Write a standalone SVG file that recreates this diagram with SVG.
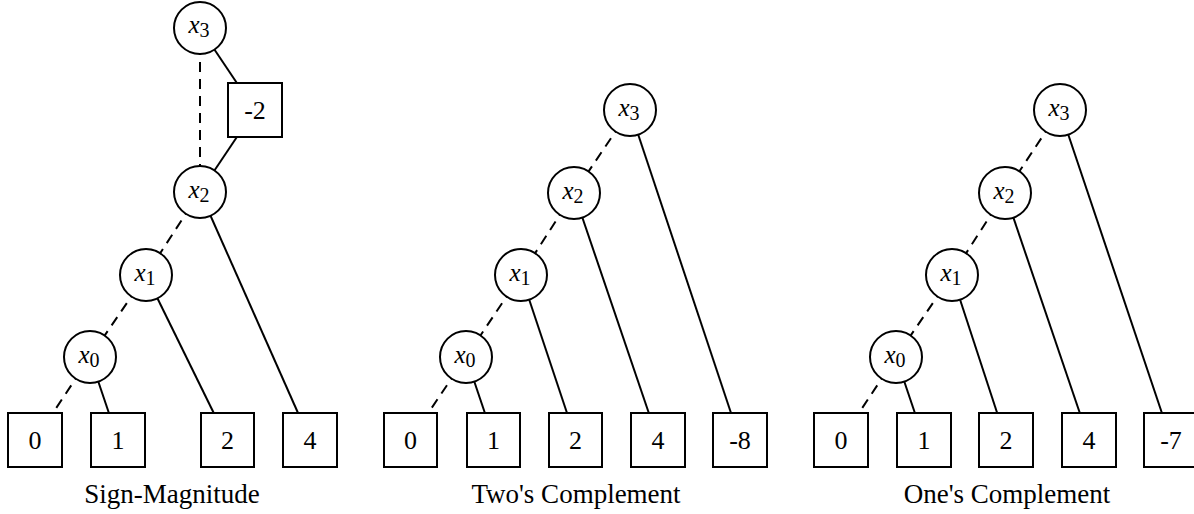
<svg xmlns="http://www.w3.org/2000/svg" width="1194" height="514" viewBox="0 0 1194 514">
<style>
  .bg { fill: #ffffff; }
  .edge { stroke: #000; stroke-width: 2; fill: none; }
  .lo { stroke-dasharray: 10 7; }
  .var circle { fill: #fff; stroke: #000; stroke-width: 2; }
  .term rect { fill: #fff; stroke: #000; stroke-width: 2; }
  .vl { font-family: "Liberation Serif", "Times New Roman", serif; font-size: 25px; fill: #000; text-anchor: middle; }
  .vl .v { font-style: italic; }
  .vl .s { font-size: 20px; }
  .tl { font-family: "Liberation Serif", "Times New Roman", serif; font-size: 26px; fill: #000; text-anchor: middle; }
  .cap { font-family: "Liberation Serif", "Times New Roman", serif; font-size: 27px; fill: #000; text-anchor: middle; }
</style>
<rect class="bg" x="0" y="0" width="1194" height="514"/>

<g id="connectors">
  <!-- Sign-Magnitude -->
  <line class="edge lo" x1="200" y1="28" x2="200" y2="192"/>
  <line class="edge" x1="200" y1="28" x2="255" y2="110"/>
  <line class="edge" x1="255" y1="110" x2="200" y2="192"/>
  <line class="edge lo" x1="200" y1="192" x2="146" y2="275"/>
  <line class="edge" x1="200" y1="192" x2="310" y2="440"/>
  <line class="edge lo" x1="146" y1="275" x2="90" y2="357"/>
  <line class="edge" x1="146" y1="275" x2="227" y2="440"/>
  <line class="edge lo" x1="90" y1="357" x2="35" y2="440"/>
  <line class="edge" x1="90" y1="357" x2="118" y2="440"/>
  <!-- Two's Complement -->
  <line class="edge lo" x1="630" y1="110" x2="574" y2="193"/>
  <line class="edge" x1="630" y1="110" x2="740" y2="440"/>
  <line class="edge lo" x1="574" y1="193" x2="521" y2="275"/>
  <line class="edge" x1="574" y1="193" x2="658" y2="440"/>
  <line class="edge lo" x1="521" y1="275" x2="466" y2="357"/>
  <line class="edge" x1="521" y1="275" x2="576" y2="440"/>
  <line class="edge lo" x1="466" y1="357" x2="410" y2="440"/>
  <line class="edge" x1="466" y1="357" x2="494" y2="440"/>
  <!-- One's Complement -->
  <line class="edge lo" x1="1060" y1="110" x2="1005" y2="193"/>
  <line class="edge" x1="1060" y1="110" x2="1171" y2="440"/>
  <line class="edge lo" x1="1005" y1="193" x2="952" y2="275"/>
  <line class="edge" x1="1005" y1="193" x2="1089" y2="440"/>
  <line class="edge lo" x1="952" y1="275" x2="896" y2="357"/>
  <line class="edge" x1="952" y1="275" x2="1006" y2="440"/>
  <line class="edge lo" x1="896" y1="357" x2="841" y2="440"/>
  <line class="edge" x1="896" y1="357" x2="924" y2="440"/>
</g>

<!-- Sign-Magnitude nodes -->
<g id="sm-x3" class="var"><circle cx="200" cy="28" r="26"/><text class="vl" x="199" y="33"><tspan class="v">x</tspan><tspan class="s" dy="4">3</tspan></text></g>
<g id="sm-w" class="term"><rect x="228" y="83" width="54" height="54"/><text class="tl" x="255" y="119">-2</text></g>
<g id="sm-x2" class="var"><circle cx="200" cy="192" r="26"/><text class="vl" x="199" y="198"><tspan class="v">x</tspan><tspan class="s" dy="4">2</tspan></text></g>
<g id="sm-x1" class="var"><circle cx="146" cy="275" r="26"/><text class="vl" x="145" y="281"><tspan class="v">x</tspan><tspan class="s" dy="4">1</tspan></text></g>
<g id="sm-x0" class="var"><circle cx="90" cy="357" r="26"/><text class="vl" x="89" y="363"><tspan class="v">x</tspan><tspan class="s" dy="4">0</tspan></text></g>
<g id="sm-t0" class="term"><rect x="8" y="413" width="54" height="54"/><text class="tl" x="35" y="449">0</text></g>
<g id="sm-t1" class="term"><rect x="91" y="413" width="54" height="54"/><text class="tl" x="118" y="449">1</text></g>
<g id="sm-t2" class="term"><rect x="201" y="413" width="53" height="54"/><text class="tl" x="227.5" y="449">2</text></g>
<g id="sm-t4" class="term"><rect x="283" y="413" width="54" height="54"/><text class="tl" x="310" y="449">4</text></g>
<text id="cap-sm" class="cap" x="172" y="503">Sign-Magnitude</text>

<!-- Two's Complement nodes -->
<g id="tc-x3" class="var"><circle cx="630" cy="110" r="26"/><text class="vl" x="629" y="116"><tspan class="v">x</tspan><tspan class="s" dy="4">3</tspan></text></g>
<g id="tc-x2" class="var"><circle cx="574" cy="193" r="26"/><text class="vl" x="573" y="199"><tspan class="v">x</tspan><tspan class="s" dy="4">2</tspan></text></g>
<g id="tc-x1" class="var"><circle cx="521" cy="275" r="26"/><text class="vl" x="520" y="281"><tspan class="v">x</tspan><tspan class="s" dy="4">1</tspan></text></g>
<g id="tc-x0" class="var"><circle cx="466" cy="357" r="26"/><text class="vl" x="465" y="363"><tspan class="v">x</tspan><tspan class="s" dy="4">0</tspan></text></g>
<g id="tc-t0" class="term"><rect x="384" y="413" width="53" height="54"/><text class="tl" x="410.5" y="449">0</text></g>
<g id="tc-t1" class="term"><rect x="467" y="413" width="53" height="54"/><text class="tl" x="493.5" y="449">1</text></g>
<g id="tc-t2" class="term"><rect x="549" y="413" width="53" height="54"/><text class="tl" x="575.5" y="449">2</text></g>
<g id="tc-t4" class="term"><rect x="631" y="413" width="54" height="54"/><text class="tl" x="658" y="449">4</text></g>
<g id="tc-t8" class="term"><rect x="713" y="413" width="54" height="54"/><text class="tl" x="740" y="449">-8</text></g>
<text id="cap-tc" class="cap" x="576" y="503">Two's Complement</text>

<!-- One's Complement nodes -->
<g id="oc-x3" class="var"><circle cx="1060" cy="110" r="26"/><text class="vl" x="1059" y="116"><tspan class="v">x</tspan><tspan class="s" dy="4">3</tspan></text></g>
<g id="oc-x2" class="var"><circle cx="1005" cy="193" r="26"/><text class="vl" x="1004" y="199"><tspan class="v">x</tspan><tspan class="s" dy="4">2</tspan></text></g>
<g id="oc-x1" class="var"><circle cx="952" cy="275" r="26"/><text class="vl" x="951" y="281"><tspan class="v">x</tspan><tspan class="s" dy="4">1</tspan></text></g>
<g id="oc-x0" class="var"><circle cx="896" cy="357" r="26"/><text class="vl" x="895" y="363"><tspan class="v">x</tspan><tspan class="s" dy="4">0</tspan></text></g>
<g id="oc-t0" class="term"><rect x="814" y="413" width="54" height="54"/><text class="tl" x="841" y="449">0</text></g>
<g id="oc-t1" class="term"><rect x="897" y="413" width="54" height="54"/><text class="tl" x="924" y="449">1</text></g>
<g id="oc-t2" class="term"><rect x="979" y="413" width="54" height="54"/><text class="tl" x="1006" y="449">2</text></g>
<g id="oc-t4" class="term"><rect x="1062" y="413" width="54" height="54"/><text class="tl" x="1089" y="449">4</text></g>
<g id="oc-t7" class="term"><rect x="1144" y="413" width="54" height="54"/><text class="tl" x="1171" y="449">-7</text></g>
<text id="cap-oc" class="cap" x="1007" y="503">One's Complement</text>
</svg>
